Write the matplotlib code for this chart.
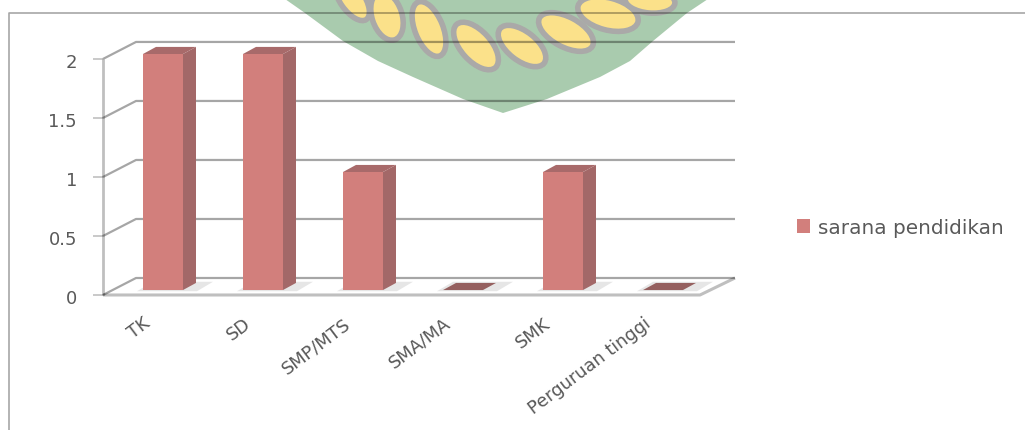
import matplotlib
matplotlib.use('Agg')
import matplotlib.pyplot as plt
from matplotlib.patches import Polygon, Ellipse

categories = ['TK', 'SD', 'SMP/MTS', 'SMA/MA', 'SMK', 'Perguruan tinggi']
values = [2, 2, 1, 0, 1, 0]
yticks = [0, 0.5, 1, 1.5, 2]
yticklabels = ['0', '0.5', '1', '1.5', '2']
series_name = 'sarana pendidikan'

# 3d look of the chart, in data units
bar_w = 0.4
bar_dx, bar_dy = 0.13, 0.06
front_y, back_y = -0.042, 0.102
left_x, back_left_x = -0.6, -0.27
right_x, back_right_x = 5.37, 5.72

W, H = 1025, 431
fig = plt.figure(figsize=(W / 100, H / 100), dpi=100, facecolor='w')

# logo watermark behind the chart, pixel coords
bg = fig.add_axes([0, 0, 1, 1])
bg.set_xlim(0, W)
bg.set_ylim(H, 0)
bg.axis('off')
shield = [(285, 0), (305, 14), (343, 42), (378, 62), (413, 78), (463, 100), (503, 114),
          (547, 100), (600, 78), (630, 62), (653, 42), (687, 14), (708, 0)]
bg.add_patch(Polygon(shield, closed=True, fc='#a9cbae', ec='none'))
seeds = [(352, 0, 50, 24, 55), (387, 17, 50, 30, 72), (429, 30, 58, 28, 68),
         (476, 47, 58, 30, 48), (522, 47, 56, 29, 38), (566, 33, 60, 30, 28),
         (608, 15, 62, 32, 15), (650, 2, 50, 24, 5)]
for sx, sy, sl, sw, ang in seeds:
    bg.add_patch(Ellipse((sx, sy), sl, sw, angle=ang, fc='#fbe18a', ec='#aaa9a8', lw=4))

# main axes fills the figure, limits chosen so the plot lands in place
ax = fig.add_axes([0, 0, 1, 1])
ax.patch.set_alpha(0)
ax.set_xlim(-1.63, 8.62)
ax.set_ylim(-1.186, 2.466)
ax.axis('off')

line = dict(color='k', alpha=0.35, solid_capstyle='butt')
light = dict(color='k', alpha=0.25, solid_capstyle='butt')

# outer chart border
ax.plot([8.62, -1.54, -1.54], [2.348, 2.348, -1.186], lw=1.2, **line)

# back wall lines and left wall diagonals
for v in yticks:
    ax.plot([left_x, back_left_x, back_right_x], [v + front_y, v + back_y, v + back_y], lw=1.6, **line)
    ax.plot([left_x - 0.1, left_x], [v + front_y, v + front_y], lw=1.2, **light)
    ax.text(left_x - 0.26, v + front_y - 0.025, yticklabels[yticks.index(v)], ha='right', va='center',
            fontsize=13, color='#595959')
ax.plot([left_x, left_x], [front_y, 2 + front_y], lw=2, **light)

# floor
ax.plot([left_x, right_x, back_right_x], [front_y, front_y, back_y], lw=2.2, **light)

# bars with fake depth
for i, v in enumerate(values):
    x0 = i - bar_w / 2
    x1 = i + bar_w / 2
    ax.add_patch(Polygon([(x0 - 0.06, -0.01), (x1 + 0.14, -0.01), (x1 + 0.3, bar_dy + 0.01), (x0 + 0.1, bar_dy + 0.01)],
                         fc='#e6e6e6', ec='none', zorder=2))
    ax.add_patch(Polygon([(x1, 0), (x1 + bar_dx, bar_dy), (x1 + bar_dx, v + bar_dy), (x1, v)],
                         fc='#a36868', ec='none', zorder=3))
    ax.add_patch(Polygon([(x0, v), (x1, v), (x1 + bar_dx, v + bar_dy), (x0 + bar_dx, v + bar_dy)],
                         fc='#95605f' if v == 0 else '#a86a6a', ec='none', zorder=3))
    ax.text(i - 0.2, -0.2, categories[i], rotation=37, rotation_mode='anchor',
            ha='right', va='top', fontsize=12.8, color='#595959')
bars = ax.bar(range(len(values)), values, width=bar_w, color='#d27f7c', zorder=4, label=series_name)

ax.legend(handles=[bars], loc='center left', bbox_to_anchor=(0.7677, 0.47), frameon=False,
          fontsize=14.4, labelcolor='#595959', handlelength=0.65, handleheight=0.65,
          handletextpad=0.4, borderpad=0)

fig.savefig('out.png', dpi=100)
